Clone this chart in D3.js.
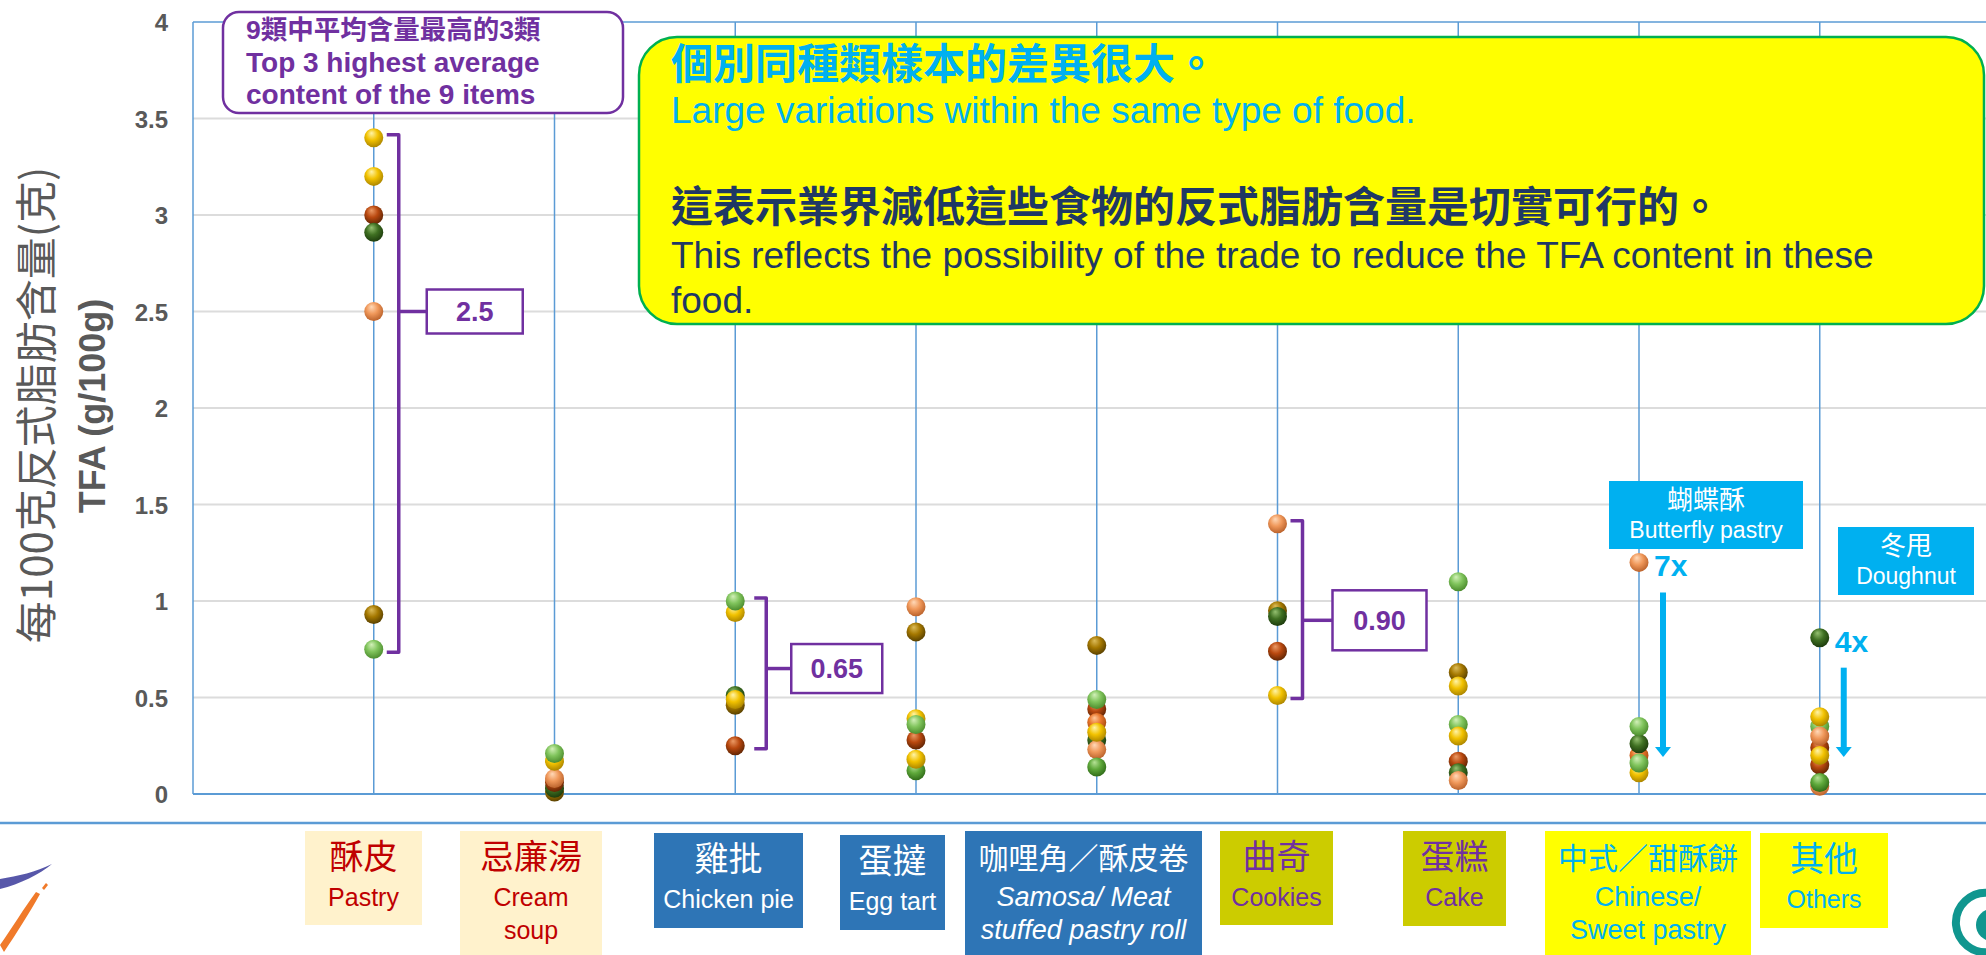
<!DOCTYPE html>
<html><head><meta charset="utf-8">
<script src="https://cdn.jsdelivr.net/npm/d3@7"></script>
<style>body{margin:0;background:#fff;} svg{display:block;}</style>
</head><body>
<svg id="chart" width="1986" height="955"></svg>
<script>
// ---------------- DATA ----------------
const categoryZh = ["酥皮","忌廉湯","雞批","蛋撻","咖哩角／酥皮卷","曲奇","蛋糕","中式／甜酥餅","其他"];
const categoryEn = [["Pastry"],["Cream","soup"],["Chicken pie"],["Egg tart"],["Samosa/ Meat","stuffed pastry roll"],["Cookies"],["Cake"],["Chinese/","Sweet pastry"],["Others"]];
const sampleValues = [
  [3.40, 3.20, 3.00, 2.91, 2.50, 0.93, 0.75],
  [0.01, 0.03, 0.06, 0.08, 0.17, 0.21],
  [0.94, 1.00, 0.46, 0.51, 0.49, 0.25],
  [0.97, 0.84, 0.39, 0.28, 0.36, 0.12, 0.18],
  [0.77, 0.44, 0.49, 0.28, 0.37, 0.23, 0.32, 0.14],
  [1.40, 0.95, 0.92, 0.74, 0.51],
  [1.10, 0.63, 0.56, 0.36, 0.30, 0.17, 0.11, 0.07],
  [1.20, 0.11, 0.20, 0.26, 0.35, 0.16],
  [0.81, 0.35, 0.24, 0.15, 0.04, 0.06, 0.30, 0.20, 0.40]
];
const sampleShades = [
  ["gold","gold","rust","forest","amber","olive","lime"],
  ["olive","forest","rust","amber","gold","lime"],
  ["gold","lime","olive","forest","gold","rust"],
  ["amber","olive","gold","rust","lime","grass","gold"],
  ["olive","rust","lime","forest","orange","amber","gold","grass"],
  ["amber","olive","forest","rust","gold"],
  ["lime","olive","gold","lime","gold","rust","forest","amber"],
  ["amber","gold","orange","forest","lime","lime"],
  ["forest","lime","rust","rust","amber","grass","amber","gold","gold"]
];
const yTicks = [0, 0.5, 1, 1.5, 2, 2.5, 3, 3.5, 4];
const rangeCategories = [0, 2, 5];
const rangeMeans = [2.5, 0.65, 0.90];
const rangeLabels = ["2.5", "0.65", "0.90"];
const foldCategories = [7, 8];
const foldLabels = ["7x", "4x"];
const foldNamesZh = ["蝴蝶酥", "冬甩"];
const foldNamesEn = ["Butterfly pastry", "Doughnut"];
const yTitleZh = "每100克反式脂肪含量(克)";
const yTitleEn = "TFA (g/100g)";
const topNoteLines = ["9類中平均含量最高的3類", "Top 3 highest average", "content of the 9 items"];
const mainNoteLines = ["個別同種類樣本的差異很大。", "Large variations within the same type of food.",
  "這表示業界減低這些食物的反式脂肪含量是切實可行的。",
  "This reflects the possibility of the trade to reduce the TFA content in these", "food."];

// ---------------- LAYOUT / STYLE ----------------
const W = 1986, H = 955;
const LATIN = "'Liberation Sans', Arial, 'Noto Sans CJK TC', sans-serif";
const CJK = "'Noto Sans CJK TC', 'Noto Sans CJK SC', sans-serif";
const BLUE = "#5b9bd5", PURPLE = "#7030a0", CYAN = "#00b0f0";
const shadeColors = {
  gold:   ["#fff4a8", "#f2c200", "#a98300"],
  amber:  ["#ffd9b8", "#f0985a", "#b8602a"],
  orange: ["#ffc89a", "#e8762c", "#a44a10"],
  rust:   ["#eb9a66", "#b9480f", "#5e2404"],
  olive:  ["#dcbc5a", "#a57800", "#573f00"],
  forest: ["#94c070", "#3f7022", "#1c3a0c"],
  lime:   ["#d2f0b8", "#80c45c", "#4a8a2c"],
  grass:  ["#b6e296", "#5ea83a", "#2f6a18"]
};
const boxStyles = [
  {fill:"#fff2cc", color:"#c00000"}, {fill:"#fff2cc", color:"#c00000"},
  {fill:"#2e75b6", color:"#ffffff"}, {fill:"#2e75b6", color:"#ffffff"}, {fill:"#2e75b6", color:"#ffffff", italic:true, zhSize:30, enSize:27},
  {fill:"#cccc00", color:"#7030a0"}, {fill:"#cccc00", color:"#7030a0"},
  {fill:"#ffff00", color:"#00b0f0", zhSize:30, enSize:27}, {fill:"#ffff00", color:"#00b0f0"}
];
const boxGeom = [
  {x:305,w:117,y:831,h:94}, {x:460,w:142,y:831,h:124}, {x:654,w:149,y:833,h:95},
  {x:840,w:105,y:835,h:95}, {x:965,w:237,y:831,h:124}, {x:1220,w:113,y:831,h:94},
  {x:1403,w:103,y:831,h:95}, {x:1545,w:206,y:831,h:124}, {x:1760,w:128,y:833,h:95}
];
const bracketGeom = [
  {off:25, tick:28, w:96, h:44}, {off:31, tick:25, w:91, h:49}, {off:25, tick:30, w:94, h:60}
];

const svg = d3.select("#chart");
svg.append("rect").attr("width", W).attr("height", H).attr("fill", "#fff");

const x = d3.scaleLinear().domain([0, 10]).range([193, 2000.5]);
const y = d3.scaleLinear().domain([0, 4]).range([794, 22]);

// gradients
const defs = svg.append("defs");
Object.entries(shadeColors).forEach(([k, c]) => {
  const g = defs.append("radialGradient").attr("id", "g-" + k)
    .attr("cx", "45%").attr("cy", "40%").attr("r", "62%").attr("fx", "38%").attr("fy", "25%");
  g.append("stop").attr("offset", "0%").attr("stop-color", c[0]);
  g.append("stop").attr("offset", "50%").attr("stop-color", c[1]);
  g.append("stop").attr("offset", "100%").attr("stop-color", c[2]);
});

// gridlines
const grid = svg.append("g");
grid.selectAll("line").data(yTicks.filter(t => t > 0 && t < 4)).join("line")
  .attr("x1", x(0)).attr("x2", W).attr("y1", d => y(d)).attr("y2", d => y(d))
  .attr("stroke", "#dcdcdc").attr("stroke-width", 2);

// category vertical lines
svg.append("g").selectAll("line").data(categoryZh).join("line")
  .attr("x1", (d, i) => x(i + 1)).attr("x2", (d, i) => x(i + 1))
  .attr("y1", y(4)).attr("y2", y(0))
  .attr("stroke", BLUE).attr("stroke-width", 1.5);

// frame lines
svg.append("line").attr("x1", x(0)).attr("x2", W).attr("y1", y(4)).attr("y2", y(4)).attr("stroke", BLUE).attr("stroke-width", 1.5);
svg.append("line").attr("x1", x(0)).attr("x2", W).attr("y1", y(0)).attr("y2", y(0)).attr("stroke", BLUE).attr("stroke-width", 2);
svg.append("line").attr("x1", x(0)).attr("x2", x(0)).attr("y1", y(4)).attr("y2", y(0)).attr("stroke", BLUE).attr("stroke-width", 1.5);
svg.append("line").attr("x1", 0).attr("x2", W).attr("y1", 823).attr("y2", 823).attr("stroke", BLUE).attr("stroke-width", 2.5);

// y axis labels
const yAxis = d3.axisLeft(y).tickValues(yTicks).tickSize(0).tickPadding(0).tickFormat(d => String(d));
const ya = svg.append("g").attr("transform", "translate(168,0)").call(yAxis);
ya.select(".domain").remove();
ya.selectAll("text").attr("font-family", LATIN).attr("font-weight", "bold")
  .attr("font-size", 24).attr("fill", "#595959").attr("dy", "0.36em");

// y titles
svg.append("text").attr("transform", "translate(52,405) rotate(-90)")
  .attr("text-anchor", "middle").attr("font-family", CJK).attr("font-size", 42)
  .attr("fill", "#595959").text(yTitleZh);
svg.append("text").attr("transform", "translate(105,406) rotate(-90)")
  .attr("text-anchor", "middle").attr("font-family", LATIN).attr("font-weight", "bold").attr("font-size", 36)
  .attr("fill", "#595959").text(yTitleEn);

// dots
const dots = [];
sampleValues.forEach((vals, i) => vals.forEach((v, j) => dots.push({cat: i, v, shade: sampleShades[i][j]})));
svg.append("g").selectAll("circle").data(dots).join("circle")
  .attr("cx", d => x(d.cat + 1)).attr("cy", d => y(d.v)).attr("r", 9.5)
  .attr("fill", d => `url(#g-${d.shade})`);

// range brackets
rangeCategories.forEach((c, k) => {
  const g = bracketGeom[k];
  const vals = sampleValues[c];
  const xb = x(c + 1) + g.off;
  const top = y(d3.max(vals)) - 3, bot = y(d3.min(vals)) + 3, ym = y(rangeMeans[k]);
  svg.append("path").attr("d", `M${xb - 12},${top} H${xb} V${bot} H${xb - 12}`)
    .attr("fill", "none").attr("stroke", PURPLE).attr("stroke-width", 3.5).attr("stroke-linejoin", "round");
  svg.append("line").attr("x1", xb).attr("x2", xb + g.tick).attr("y1", ym).attr("y2", ym)
    .attr("stroke", PURPLE).attr("stroke-width", 3.5);
  svg.append("rect").attr("x", xb + g.tick).attr("y", ym - g.h / 2).attr("width", g.w).attr("height", g.h)
    .attr("fill", "#fff").attr("stroke", PURPLE).attr("stroke-width", 2.5);
  svg.append("text").attr("x", xb + g.tick + g.w / 2).attr("y", ym).attr("dy", "0.36em")
    .attr("text-anchor", "middle").attr("font-family", LATIN).attr("font-weight", "bold")
    .attr("font-size", 27).attr("fill", PURPLE).text(rangeLabels[k]);
});

// top-left purple note
svg.append("rect").attr("x", 223).attr("y", 12).attr("width", 400).attr("height", 101).attr("rx", 16)
  .attr("fill", "#fff").attr("stroke", PURPLE).attr("stroke-width", 2.5);
svg.append("g").selectAll("text").data(topNoteLines).join("text")
  .attr("x", 246).attr("y", (d, i) => [39, 72, 104][i])
  .attr("font-family", LATIN).attr("font-weight", "bold").attr("font-size", (d, i) => i === 0 ? 26.5 : 28)
  .attr("fill", PURPLE).text(d => d);

// yellow note
svg.append("rect").attr("x", 639).attr("y", 37).attr("width", 1345).attr("height", 287).attr("rx", 38)
  .attr("fill", "#ffff00").attr("stroke", "#00b050").attr("stroke-width", 2.5);
const noteStyle = [
  {y:79, size:42, bold:true, color:CYAN, font:CJK},
  {y:123, size:37, bold:false, color:CYAN, font:LATIN},
  {y:222, size:42, bold:true, color:"#1f3864", font:CJK},
  {y:268, size:37, bold:false, color:"#1f3864", font:LATIN},
  {y:313, size:37, bold:false, color:"#1f3864", font:LATIN}
];
svg.append("g").selectAll("text").data(mainNoteLines).join("text")
  .attr("x", 671).attr("y", (d, i) => noteStyle[i].y)
  .attr("font-family", (d, i) => noteStyle[i].font)
  .attr("font-weight", (d, i) => noteStyle[i].bold ? "bold" : "normal")
  .attr("font-size", (d, i) => noteStyle[i].size)
  .attr("fill", (d, i) => noteStyle[i].color).text(d => d);

// fold annotations
const foldBoxes = [{x:1609, y:481, w:194, h:68}, {x:1838, y:527, w:136, h:68}];
foldCategories.forEach((c, k) => {
  const b = foldBoxes[k];
  svg.append("rect").attr("x", b.x).attr("y", b.y).attr("width", b.w).attr("height", b.h).attr("fill", CYAN);
  svg.append("text").attr("x", b.x + b.w / 2).attr("y", b.y + 28).attr("text-anchor", "middle")
    .attr("font-family", CJK).attr("font-size", 26).attr("fill", "#fff").text(foldNamesZh[k]);
  svg.append("text").attr("x", b.x + b.w / 2).attr("y", b.y + 57).attr("text-anchor", "middle")
    .attr("font-family", LATIN).attr("font-size", 23).attr("fill", "#fff").text(foldNamesEn[k]);
  const vmax = d3.max(sampleValues[c]);
  const xc = x(c + 1);
  svg.append("text").attr("x", xc + 15).attr("y", y(vmax) + 14)
    .attr("font-family", LATIN).attr("font-weight", "bold").attr("font-size", 30)
    .attr("fill", CYAN).text(foldLabels[k]);
  const ax = xc + 24, top = y(vmax) + 30, tip = 757;
  svg.append("line").attr("x1", ax).attr("x2", ax).attr("y1", top).attr("y2", tip - 9)
    .attr("stroke", CYAN).attr("stroke-width", 6);
  svg.append("path").attr("d", `M${ax - 8},${tip - 10} L${ax + 8},${tip - 10} L${ax},${tip} Z`).attr("fill", CYAN);
});

// category label boxes
categoryZh.forEach((zh, i) => {
  const b = boxGeom[i], s = boxStyles[i];
  const g = svg.append("g");
  g.append("rect").attr("x", b.x).attr("y", b.y).attr("width", b.w).attr("height", b.h).attr("fill", s.fill);
  const cx = b.x + b.w / 2;
  g.append("text").attr("x", cx).attr("y", b.y + 38).attr("text-anchor", "middle")
    .attr("font-family", CJK).attr("font-size", s.zhSize || 34).attr("fill", s.color).text(zh);
  categoryEn[i].forEach((t, j) => {
    g.append("text").attr("x", cx).attr("y", b.y + 75 + j * 33).attr("text-anchor", "middle")
      .attr("font-family", LATIN).attr("font-size", s.enSize || 25)
      .attr("font-style", s.italic ? "italic" : "normal")
      .attr("fill", s.color).text(t);
  });
});

// logos (decorative)
svg.append("path").attr("d", "M0,879 C18,876 36,872 52,864 C40,874 20,884 0,889 Z").attr("fill", "#3a3a9a").attr("opacity", 0.85);
svg.append("path").attr("d", "M0,945 C12,928 24,908 36,892 L40,894 C30,912 16,934 4,952 Z").attr("fill", "#f07a2a");
svg.append("path").attr("d", "M42,888 L46,883 L48,885 L44,890 Z").attr("fill", "#f07a2a");
svg.append("path").attr("d", "M1990,893 A30,30 0 0 0 1956,925 A30,30 0 0 0 1990,952")
  .attr("fill", "none").attr("stroke", "#10968f").attr("stroke-width", 8);
svg.append("circle").attr("cx", 1992).attr("cy", 925).attr("r", 16).attr("fill", "#10968f");
svg.append("circle").attr("cx", 1998).attr("cy", 922).attr("r", 10).attr("fill", "#fff");
</script>
</body></html>
